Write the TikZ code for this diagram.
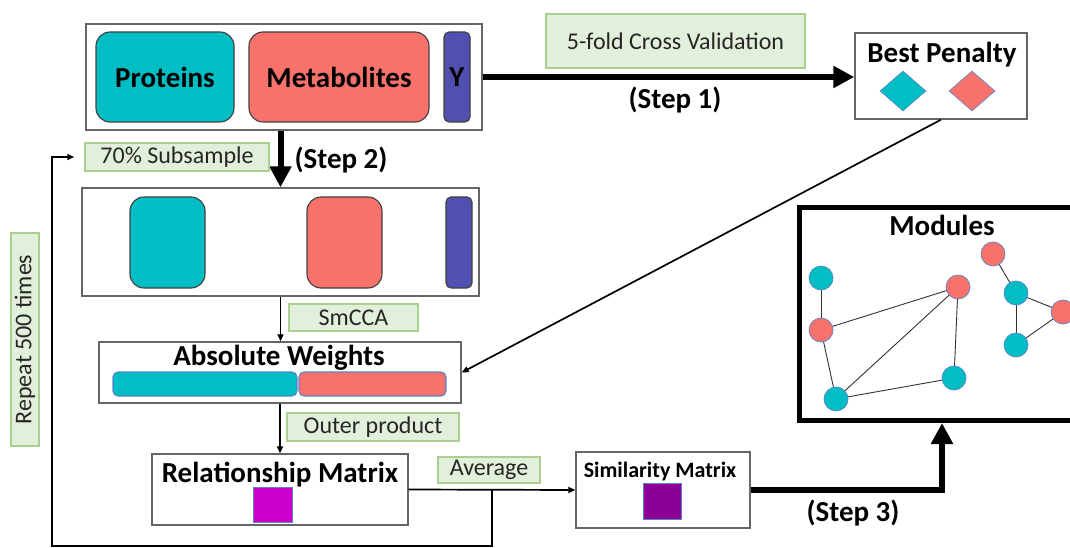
\documentclass[tikz,border=0pt]{standalone}
\usepackage{fontspec}
\setmainfont{Carlito}
\definecolor{protteal}{RGB}{0,190,196}
\definecolor{metsalmon}{RGB}{248,114,108}
\definecolor{yindigo}{RGB}{80,80,176}
\definecolor{relmagenta}{RGB}{204,0,204}
\definecolor{simpurple}{RGB}{140,0,150}
\definecolor{tagfill}{RGB}{226,239,218}
\definecolor{tagline}{RGB}{169,208,142}
\definecolor{nodeline}{RGB}{90,130,200}
\usetikzlibrary{arrows.meta, shapes.geometric, calc}

\begin{document}
\begin{tikzpicture}[x=1pt, y=-1pt,
  frame/.style={draw=black!60, line width=1.4pt, fill=white, inner sep=0pt},
  block/.style={draw=black!75, line width=1.1pt, rounded corners=14pt, inner sep=0pt},
  tag/.style={draw=tagline, fill=tagfill, line width=1.5pt, inner sep=0pt, text=black!85, font=\fontsize{24}{26}\selectfont},
  title/.style={inner sep=0pt, font=\fontsize{29}{31}\selectfont\bfseries},
  bigarrow/.style={line width=6pt, -{Triangle[length=21pt, width=21pt]}},
  thinarrow/.style={line width=1.7pt, -{Triangle[length=7pt, width=6pt]}},
  netnode/.style={circle, draw=nodeline, line width=0.7pt, minimum size=24pt, inner sep=0pt}]
  \path[use as bounding box] (0,0) rectangle (1070,548);
  \clip (0,0) rectangle (1070,548);
  \fill[white] (0,0) rectangle (1070,548);

  % Data block
  \node[frame, minimum width=396pt, minimum height=106pt] (data) at (284,77) {};
  \node[block, fill=protteal, minimum width=138pt, minimum height=90pt, title] (prot) at (165,77) {Proteins};
  \node[block, fill=metsalmon, minimum width=180pt, minimum height=90pt, title] (metab) at (339,77) {Metabolites};
  \node[block, rounded corners=5pt, fill=yindigo, minimum width=26pt, minimum height=90pt, title] (yvar) at (457,77) {Y};

  % Step 1: cross validation
  \node[tag, minimum width=259pt, minimum height=54pt] (cv) at (675.5,41) {5-fold Cross Validation};
  \node[frame, minimum width=172pt, minimum height=86pt] (best) at (941,76) {};
  \node[title] (besttxt) at (942,55) {Best Penalty};
  \node[diamond, draw=nodeline, line width=0.6pt, fill=protteal, minimum width=46pt, minimum height=40pt, inner sep=0pt] (dprot) at (903,91) {};
  \node[diamond, draw=nodeline, line width=0.6pt, fill=metsalmon, minimum width=46pt, minimum height=40pt, inner sep=0pt] (dmet) at (972,91) {};
  \draw[bigarrow] (data.east) -- (data.east -| best.west);
  \node[title] (step1) at (675,100) {(Step 1)};

  % Step 2: subsample
  \node[frame, minimum width=397pt, minimum height=108pt] (sub) at (280.5,242) {};
  \node[block, fill=protteal, minimum width=75pt, minimum height=91pt] (subprot) at (167.5,242.5) {};
  \node[block, fill=metsalmon, minimum width=75pt, minimum height=91pt] (submet) at (344.5,242.5) {};
  \node[block, rounded corners=5pt, fill=yindigo, minimum width=26pt, minimum height=91pt] (suby) at (459,242.5) {};
  \draw[bigarrow] (sub.north |- data.south) -- (sub.north);
  \node[tag, minimum width=184pt, minimum height=28pt] (subtag) at (177,157) {70\% Subsample};
  \node[title] (step2) at (341,160) {(Step 2)};

  % SmCCA weights
  \node[frame, minimum width=362pt, minimum height=61pt] (absw) at (280,372.5) {};
  \node[block, rounded corners=5pt, draw=nodeline, fill=protteal, minimum width=184pt, minimum height=24pt] (wprot) at (205,384) {};
  \node[block, rounded corners=5pt, draw=nodeline, fill=metsalmon, minimum width=147pt, minimum height=24pt] (wmet) at (372.5,384) {};
  \node[title] (abswtxt) at (279,358) {Absolute Weights};
  \draw[thinarrow] (sub.south) -- (sub.south |- absw.north);
  \node[tag, minimum width=129pt, minimum height=27pt] (cca) at (353.5,317.5) {SmCCA};

  % Outer product
  \node[frame, minimum width=256pt, minimum height=71pt] (rel) at (280,489.5) {};
  \node[title] (reltxt) at (280,475) {Relationship Matrix};
  \node[draw=nodeline, line width=0.6pt, fill=relmagenta, minimum width=39pt, minimum height=35pt, inner sep=0pt] (relsq) at (272.5,504.5) {};
  \draw[thinarrow] (absw.south) -- (rel.north);
  \node[tag, minimum width=172pt, minimum height=28pt] (outer) at (373,427) {Outer product};

  % Average
  \node[frame, minimum width=174pt, minimum height=76pt] (sim) at (663,490) {};
  \node[inner sep=0pt, font=\fontsize{22}{24}\selectfont\bfseries] (simtxt) at (660,472) {Similarity Matrix};
  \node[draw=nodeline, line width=0.6pt, fill=simpurple, minimum width=38pt, minimum height=36pt, inner sep=0pt] (simsq) at (662,501) {};
  \node[tag, minimum width=102pt, minimum height=26pt] (avg) at (489,470) {Average};
  \draw[thinarrow] (rel.east) -- (sim.west);
  \coordinate (split) at ($(rel.east)!0.5!(sim.west)$);

  % Repeat loop
  \coordinate (loopcorner) at (52,546);
  \draw[thinarrow, line width=2pt, shorten >=10pt] (split) |- (loopcorner) |- (subtag.west);
  \node[tag, rotate=90, minimum width=213pt, minimum height=28pt] (repeat) at (25,339.5) {Repeat 500 times};

  % Penalty into weights
  \draw[thinarrow] (best.south) -- (absw.east);

  % Step 3: modules
  \node[draw, line width=5pt, minimum width=286pt, minimum height=213pt, inner sep=0pt] (mods) at (942,314) {};
  \node[title] (modtxt) at (942,225) {Modules};
  \foreach \n/\x/\y in {ma/821/278, mb/821/330, mc/836/399, md/958/287, me/954/378,
      mf/993/254, mg/1016/293, mh/1063/312, mi/1016/345}
    \coordinate (\n) at (\x,\y);
  \foreach \a/\b in {ma/mb, mb/md, mb/mc, mc/md, md/me, mc/me, mf/mg, mg/mi, mg/mh, mi/mh}
    \draw[black!80, line width=0.9pt] (\a) -- (\b);
  \foreach \n/\c in {ma/protteal, mb/metsalmon, mc/protteal, md/metsalmon, me/protteal,
      mf/metsalmon, mg/protteal, mh/metsalmon, mi/protteal}
    \node[netnode, fill=\c] (\n-dot) at (\n) {};
  \draw[bigarrow] (sim.east) -| (mods.south);
  \node[title] (step3) at (853,513) {(Step 3)};
\end{tikzpicture}
\end{document}
